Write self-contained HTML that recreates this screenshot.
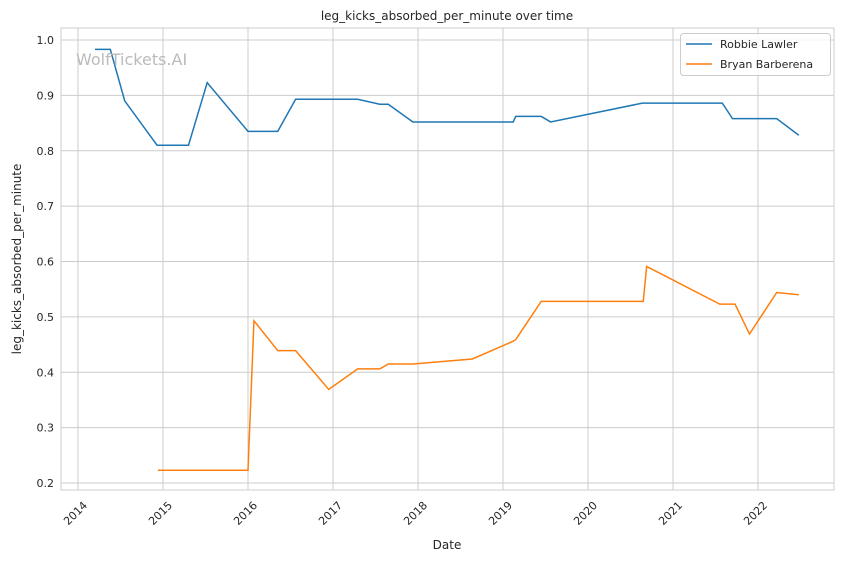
<!DOCTYPE html>
<html><head><meta charset="utf-8"><style>
body{margin:0;background:#fff;font-family:"Liberation Sans","DejaVu Sans",sans-serif}
svg text{font-family:"DejaVu Sans","Liberation Sans",sans-serif;fill:#262626}
</style></head><body>
<svg id="c" width="844" height="561"></svg>
<script>
const xTicks=[2014,2015,2016,2017,2018,2019,2020,2021,2022];
const yTicks=[0.2,0.3,0.4,0.5,0.6,0.7,0.8,0.9,1.0];
const lawlerDates=[2014.2,2014.38,2014.55,2014.93,2015.3,2015.52,2016.0,2016.35,2016.56,2017.29,2017.55,2017.65,2017.94,2019.12,2019.15,2019.45,2019.56,2020.64,2021.58,2021.7,2022.22,2022.48];
const lawlerVals=[0.983,0.983,0.89,0.81,0.81,0.923,0.835,0.835,0.893,0.893,0.884,0.884,0.852,0.852,0.862,0.862,0.852,0.886,0.886,0.858,0.858,0.828];
const barbDates=[2014.94,2016.0,2016.07,2016.35,2016.56,2016.95,2017.29,2017.55,2017.65,2017.94,2018.64,2019.12,2019.15,2019.45,2020.65,2020.69,2021.55,2021.73,2021.9,2022.22,2022.48];
const barbVals=[0.223,0.223,0.493,0.439,0.439,0.369,0.406,0.406,0.415,0.415,0.424,0.456,0.459,0.528,0.528,0.591,0.523,0.523,0.469,0.544,0.540];
const NS='http://www.w3.org/2000/svg';
const svg=document.getElementById('c');
const X=v=>78+(v-2014)*85;
const Y=v=>40+(1-v)*553.75;
function mk(t,a,p){const e=document.createElementNS(NS,t);for(const k in a)e.setAttribute(k,a[k]);(p||svg).appendChild(e);return e;}
const plot=mk('rect',{x:61,y:28,width:773,height:462,fill:'#fff',stroke:'#ccc','stroke-width':1});


xTicks.forEach(t=>{
  const l=mk('line',{x1:X(t),x2:X(t),y1:28,y2:490,stroke:'#ccc','stroke-width':1});
  
  
  const ax=X(t)+10, ay=506;
  const tx=mk('text',{x:ax,y:ay,'font-size':11,'text-anchor':'end',transform:`rotate(-45 ${ax} ${ay})`});
  tx.textContent=t;
  
  
});
yTicks.forEach(t=>{
  const l=mk('line',{x1:61,x2:834,y1:Y(t),y2:Y(t),stroke:'#ccc','stroke-width':1});
  
  
  const tx=mk('text',{x:54,y:Y(t)+4,'font-size':11,'text-anchor':'end'});
  tx.textContent=t.toFixed(1);
  
  
});
function line(d,v,c,n){
  const p=mk('polyline',{points:d.map((x,i)=>X(x)+','+Y(v[i])).join(' '),fill:'none',stroke:c,'stroke-width':1.5});
  
  
}
line(lawlerDates,lawlerVals,'#1f77b4','robbie-lawler-line');
line(barbDates,barbVals,'#ff7f0e','bryan-barberena-line');
</script>
<svg style="position:absolute;left:0;top:0" width="844" height="561">
<text x="76" y="65" font-size="16" fill="#bbb" style="fill:#bbb">WolfTickets.AI</text>
<text x="447" y="20" font-size="12" text-anchor="middle">leg_kicks_absorbed_per_minute over time</text>
<text x="447" y="549" font-size="12" text-anchor="middle">Date</text>
<text x="21" y="259" font-size="12" text-anchor="middle" transform="rotate(-90 21 259)">leg_kicks_absorbed_per_minute</text>
<g>
<rect x="680.5" y="33.5" width="150" height="42" rx="3" fill="#fff" fill-opacity="0.8" stroke="#ccc"/>
<line x1="686" x2="712" y1="44" y2="44" stroke="#1f77b4" stroke-width="1.5"/>
<text x="720" y="48" font-size="11">Robbie Lawler</text>
<line x1="686" x2="712" y1="64" y2="64" stroke="#ff7f0e" stroke-width="1.5"/>
<text x="720" y="68" font-size="11">Bryan Barberena</text>
</g>
</svg>
</body></html>
